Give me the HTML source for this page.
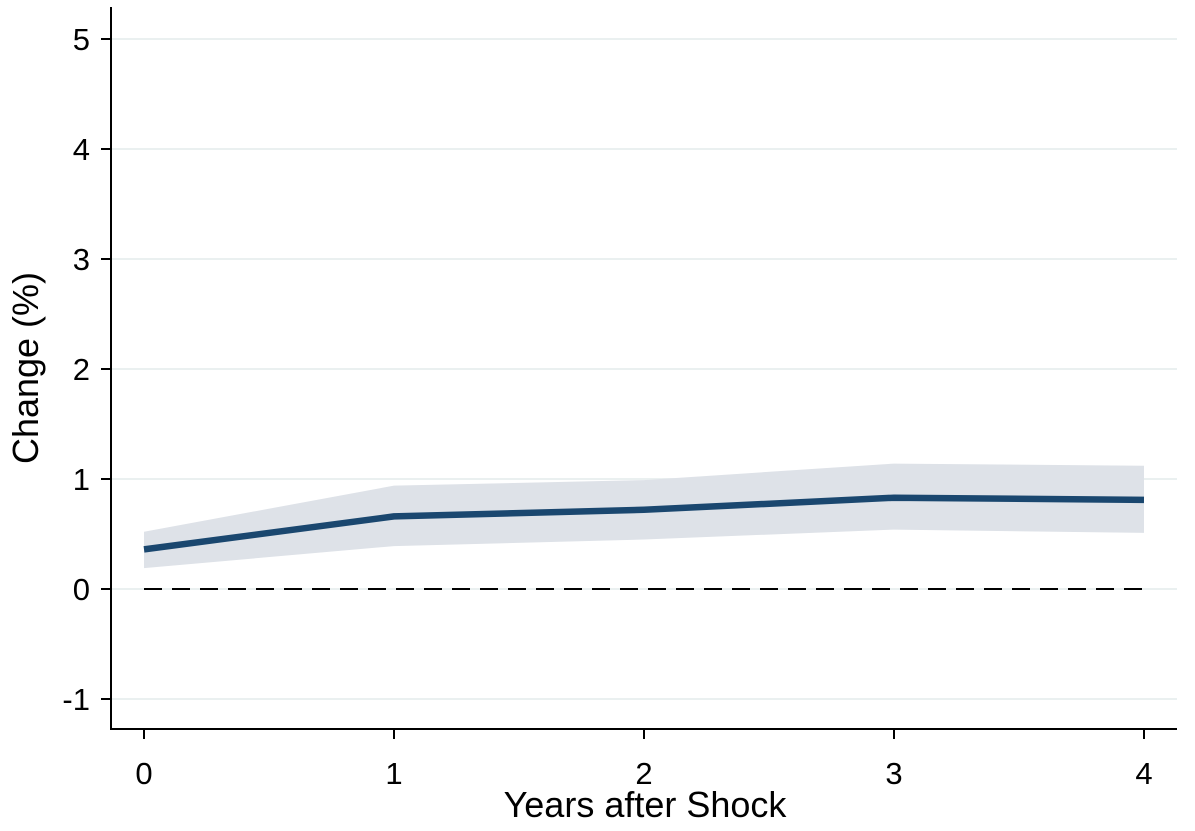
<!DOCTYPE html>
<html><head><meta charset="utf-8"><style>
html,body{margin:0;padding:0;background:#fff;}
svg{display:block;font-family:"Liberation Sans",Arial,sans-serif;}
</style></head><body>
<svg id="chart" width="1195" height="831" viewBox="0 0 1195 831">
<g id="grid"></g>
<g id="band"></g>
<line x1="144" y1="589" x2="1144" y2="589" stroke="#000" stroke-width="2" stroke-dasharray="18 10"/>
<g id="series"></g>
<g id="axes"></g>
<text transform="translate(38,368) rotate(-90)" text-anchor="middle" font-size="36" fill="#000">Change (%)</text>
<text x="645" y="817" text-anchor="middle" font-size="36" fill="#000">Years after Shock</text>
</svg>
<script>
const years = [0, 1, 2, 3, 4];
const estimate = [0.36, 0.66, 0.72, 0.83, 0.81];
const upperCI = [0.52, 0.94, 0.99, 1.14, 1.12];
const lowerCI = [0.19, 0.39, 0.45, 0.54, 0.51];
const yTicks = [-1, 0, 1, 2, 3, 4, 5];
const xTicks = [0, 1, 2, 3, 4];

const NS = "http://www.w3.org/2000/svg";
function xs(v){ return 144 + v * 250; }
function ys(v){ return 589 - v * 110; }
function mk(tag, attrs, parent){
  const e = document.createElementNS(NS, tag);
  for (const k in attrs) e.setAttribute(k, attrs[k]);
  parent.appendChild(e);
  return e;
}
const grid = document.getElementById('grid');
const axes = document.getElementById('axes');
yTicks.forEach(t => {
  const g = mk('line', {x1:112, x2:1177, y1:ys(t), y2:ys(t), stroke:'#eaf0f0', 'stroke-width':2}, grid);
  
  
  const tk = mk('line', {x1:101, x2:111, y1:ys(t), y2:ys(t), stroke:'#000', 'stroke-width':2}, axes);
  
  
  const lb = mk('text', {x:90, y:ys(t)+11, 'text-anchor':'end', 'font-size':31, fill:'#000'}, axes);
  lb.textContent = t;
  
  
});
xTicks.forEach(t => {
  const tk = mk('line', {x1:xs(t), x2:xs(t), y1:729, y2:739, stroke:'#000', 'stroke-width':2}, axes);
  
  
  const lb = mk('text', {x:xs(t), y:784, 'text-anchor':'middle', 'font-size':31, fill:'#000'}, axes);
  lb.textContent = t;
  
  
});
const ya = mk('line', {x1:111, x2:111, y1:7, y2:730, stroke:'#000', 'stroke-width':2}, axes);


const xa = mk('line', {x1:110, x2:1177, y1:729, y2:729, stroke:'#000', 'stroke-width':2}, axes);



let pts = years.map((y,i) => xs(y)+','+ys(upperCI[i]));
for (let i = years.length-1; i >= 0; i--) pts.push(xs(years[i])+','+ys(lowerCI[i]));
const band = mk('polygon', {points: pts.join(' '), fill:'#dee2e8'}, document.getElementById('band'));


const line = mk('polyline', {points: years.map((y,i)=>xs(y)+','+ys(estimate[i])).join(' '), fill:'none', stroke:'#1a476f', 'stroke-width':6.5, 'stroke-linejoin':'round'}, document.getElementById('series'));


</script>
</body></html>
